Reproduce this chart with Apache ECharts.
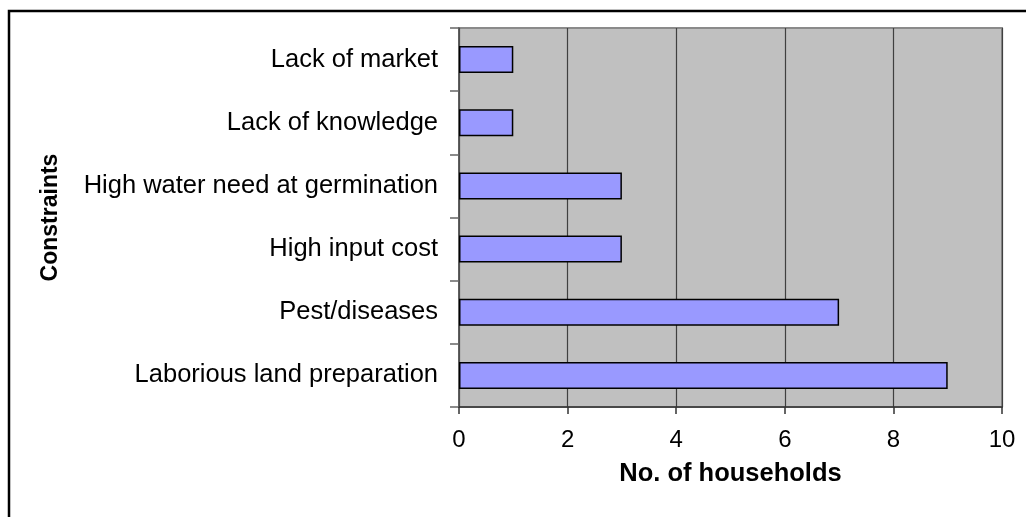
<!DOCTYPE html>
<html>
<head>
<meta charset="utf-8">
<script src="https://cdn.jsdelivr.net/npm/echarts@6/dist/echarts.min.js"></script>
<style>
  html, body { margin: 0; padding: 0; background: #fff; }
  #chart { width: 1026px; height: 517px; }
</style>
</head>
<body>
<div id="chart"></div>
<script>
// categories listed bottom to top (echarts category axis goes upward)
const constraints = [
  'Laborious land preparation',
  'Pest/diseases',
  'High input cost',
  'High water need at germination',
  'Lack of knowledge',
  'Lack of market'
];
const households = [9, 7, 3, 3, 1, 1];
const xTicks = [0, 2, 4, 6, 8, 10];

const font = '"Liberation Sans", Arial, sans-serif';

const chart = echarts.init(document.getElementById('chart'));

const option = {
  backgroundColor: '#fff',
  animation: false,
  graphic: [
    {
      // outer chart frame, runs off right/bottom edge
      type: 'rect',
      shape: { x: 9, y: 11, width: 1040, height: 530 },
      style: { fill: 'none', stroke: '#000', lineWidth: 2.5 },
      z: 100
    }
  ],
  grid: {
    left: 459,
    right: 24,
    top: 28,
    bottom: 110,
    show: true,
    backgroundColor: '#c0c0c0',
    borderColor: '#8a8a8a',
    borderWidth: 2
  },
  xAxis: {
    type: 'value',
    min: xTicks[0],
    max: xTicks[xTicks.length - 1],
    interval: 2,
    name: 'No. of households',
    nameLocation: 'middle',
    nameGap: 54,
    nameTextStyle: { fontFamily: font, fontSize: 25.5, fontWeight: 'bold', color: '#000' },
    axisLine: { show: true, lineStyle: { color: '#333', width: 1.5 } },
    axisTick: { show: true, length: 7, lineStyle: { color: '#333', width: 1.5 } },
    axisLabel: { fontFamily: font, fontSize: 24, color: '#000', margin: 21 },
    splitLine: { show: true, lineStyle: { color: '#404040', width: 1.2 } }
  },
  yAxis: {
    type: 'category',
    data: constraints,
    name: 'Constraints',
    nameLocation: 'middle',
    nameRotate: 90,
    nameGap: 397,
    nameTextStyle: { fontFamily: font, fontSize: 23, fontWeight: 'bold', color: '#000' },
    axisLine: { show: true, lineStyle: { color: '#555', width: 1.5 } },
    axisTick: { show: true, length: 9, alignWithLabel: false, lineStyle: { color: '#666', width: 1.5 } },
    axisLabel: { fontFamily: font, fontSize: 25.5, color: '#000', margin: 21 },
    splitLine: { show: false }
  },
  series: [
    {
      name: 'No. of households',
      type: 'bar',
      data: households,
      barWidth: 27,
      itemStyle: {
        color: '#9999ff',
        borderColor: '#000',
        borderWidth: 1.5
      }
    }
  ]
};

chart.setOption(option);
</script>
</body>
</html>
